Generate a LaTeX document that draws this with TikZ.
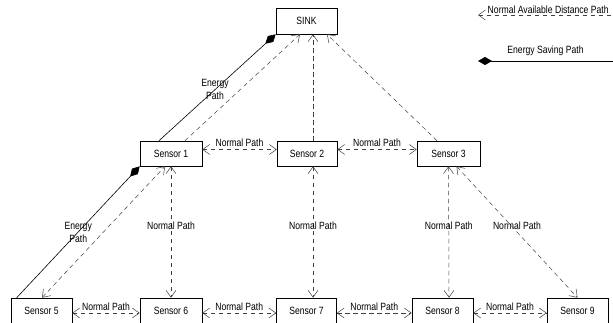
\documentclass[tikz,border=0pt]{standalone}
\usepackage{fontspec}
\setmainfont{Liberation Sans}[FakeStretch=0.82]
\usetikzlibrary{arrows.meta}
\begin{document}
\begin{tikzpicture}[x=1pt,y=-1pt,
  font=\fontsize{10.5}{13}\selectfont,
  box/.style={draw, line width=0.6pt, minimum width=61pt, minimum height=25pt, inner sep=0pt},
  npath/.style={dashed, dash pattern=on 4.5pt off 3.5pt, line width=0.5pt, draw=black!75},
  epath/.style={line width=0.6pt},
  tip/.tip={Straight Barb[length=7pt,width=10pt,line width=0.5pt]},
  dia/.tip={Diamond[length=14pt,width=8pt]},
  lbl/.style={inner sep=1pt, align=center, text=black}]
\useasboundingbox (0,0) rectangle (613,323);
% nodes
\node[box, minimum height=26pt] (sink) at (306.5,21) {SINK};
\node[box, minimum width=62pt] (s1) at (171,153.5) {Sensor 1};
\node[box, minimum width=60pt] (s2) at (307,153.5) {Sensor 2};
\node[box, minimum width=63pt] (s3) at (448.5,153.5) {Sensor 3};
\node[box] (s5) at (41.5,310.5) {Sensor 5};
\node[box, minimum width=62pt] (s6) at (171,310.5) {Sensor 6};
\node[box, minimum width=60pt] (s7) at (306.5,310.5) {Sensor 7};
\node[box] (s8) at (442.5,310.5) {Sensor 8};
\node[box] (s9) at (577.5,310.5) {Sensor 9};
% legend
\coordinate (la) at (478,15);
\coordinate (lb) at (613,15);
\coordinate (lc) at (478,61);
\coordinate (ld) at (613,61);
\draw[npath, tip-] (la) -- (lb) node[lbl, pos=0.52, anchor=south, inner sep=1pt] (lt1) {Normal Available Distance Path};
\draw[epath, dia-] (lc) -- (ld) node[lbl, pos=0.5, above=5pt, inner sep=0pt] (lt2) {Energy Saving Path};
% top connectors
\draw[epath, -dia] ([xshift=-12pt]s1.north) -- (sink.south west)
  node[lbl, pos=0.48, inner sep=0pt] (e1) {Energy\\Path};
\draw[npath, -tip] ([xshift=14pt]s1.north) -- ([xshift=-6.5pt]sink.south);
\draw[npath, -tip] ([xshift=6pt]s2.north) -- ([xshift=6.5pt]sink.south);
\draw[npath, -tip] ([xshift=-11.5pt]s3.north) -- ([xshift=20.5pt]sink.south);
\draw[npath, tip-tip] ([yshift=4pt]s1.east) -- ([yshift=4pt]s2.west)
  node[lbl, midway, above=2pt] (n12) {Normal Path};
\draw[npath, tip-tip] ([yshift=4pt]s2.east) -- ([yshift=4pt]s3.west)
  node[lbl, midway, above=2pt] (n23) {Normal Path};
% middle connectors
\draw[epath, dia-] (s1.south west) -- ([xshift=6pt]s5.north west)
  node[lbl, pos=0.5, inner sep=0pt] (e2) {Energy\\Path};
\draw[npath, tip-tip] ([xshift=0.5pt]s5.north) -- ([xshift=-6pt]s1.south);
\draw[npath, tip-tip] (s1.south) -- (s6.north)
  node[lbl, pos=0.45] (n16) {Normal Path};
\draw[npath, tip-tip] ([xshift=6pt]s2.south) -- ([xshift=6.5pt]s7.north)
  node[lbl, pos=0.45] (n27) {Normal Path};
\draw[npath, tip-tip] (s3.south) -- ([xshift=6.5pt]s8.north)
  node[lbl, pos=0.45] (n38) {Normal Path};
\draw[npath, tip-tip] ([xshift=8pt]s3.south) -- (s9.north)
  node[lbl, pos=0.45, xshift=6pt] (n39) {Normal Path};
% bottom connectors
\draw[npath, tip-tip] ([yshift=-2.5pt]s5.east) -- ([yshift=-2.5pt]s6.west)
  node[lbl, midway, above=1pt] (n56) {Normal Path};
\draw[npath, tip-tip] ([yshift=-2.5pt]s6.east) -- ([yshift=-2.5pt]s7.west)
  node[lbl, midway, above=1pt] (n67) {Normal Path};
\draw[npath, tip-tip] ([yshift=-2.5pt]s7.east) -- ([yshift=-2.5pt]s8.west)
  node[lbl, midway, above=1pt] (n78) {Normal Path};
\draw[npath, tip-tip] ([yshift=-2.5pt]s8.east) -- ([yshift=-2.5pt]s9.west)
  node[lbl, midway, above=1pt] (n89) {Normal Path};
\end{tikzpicture}
\end{document}
